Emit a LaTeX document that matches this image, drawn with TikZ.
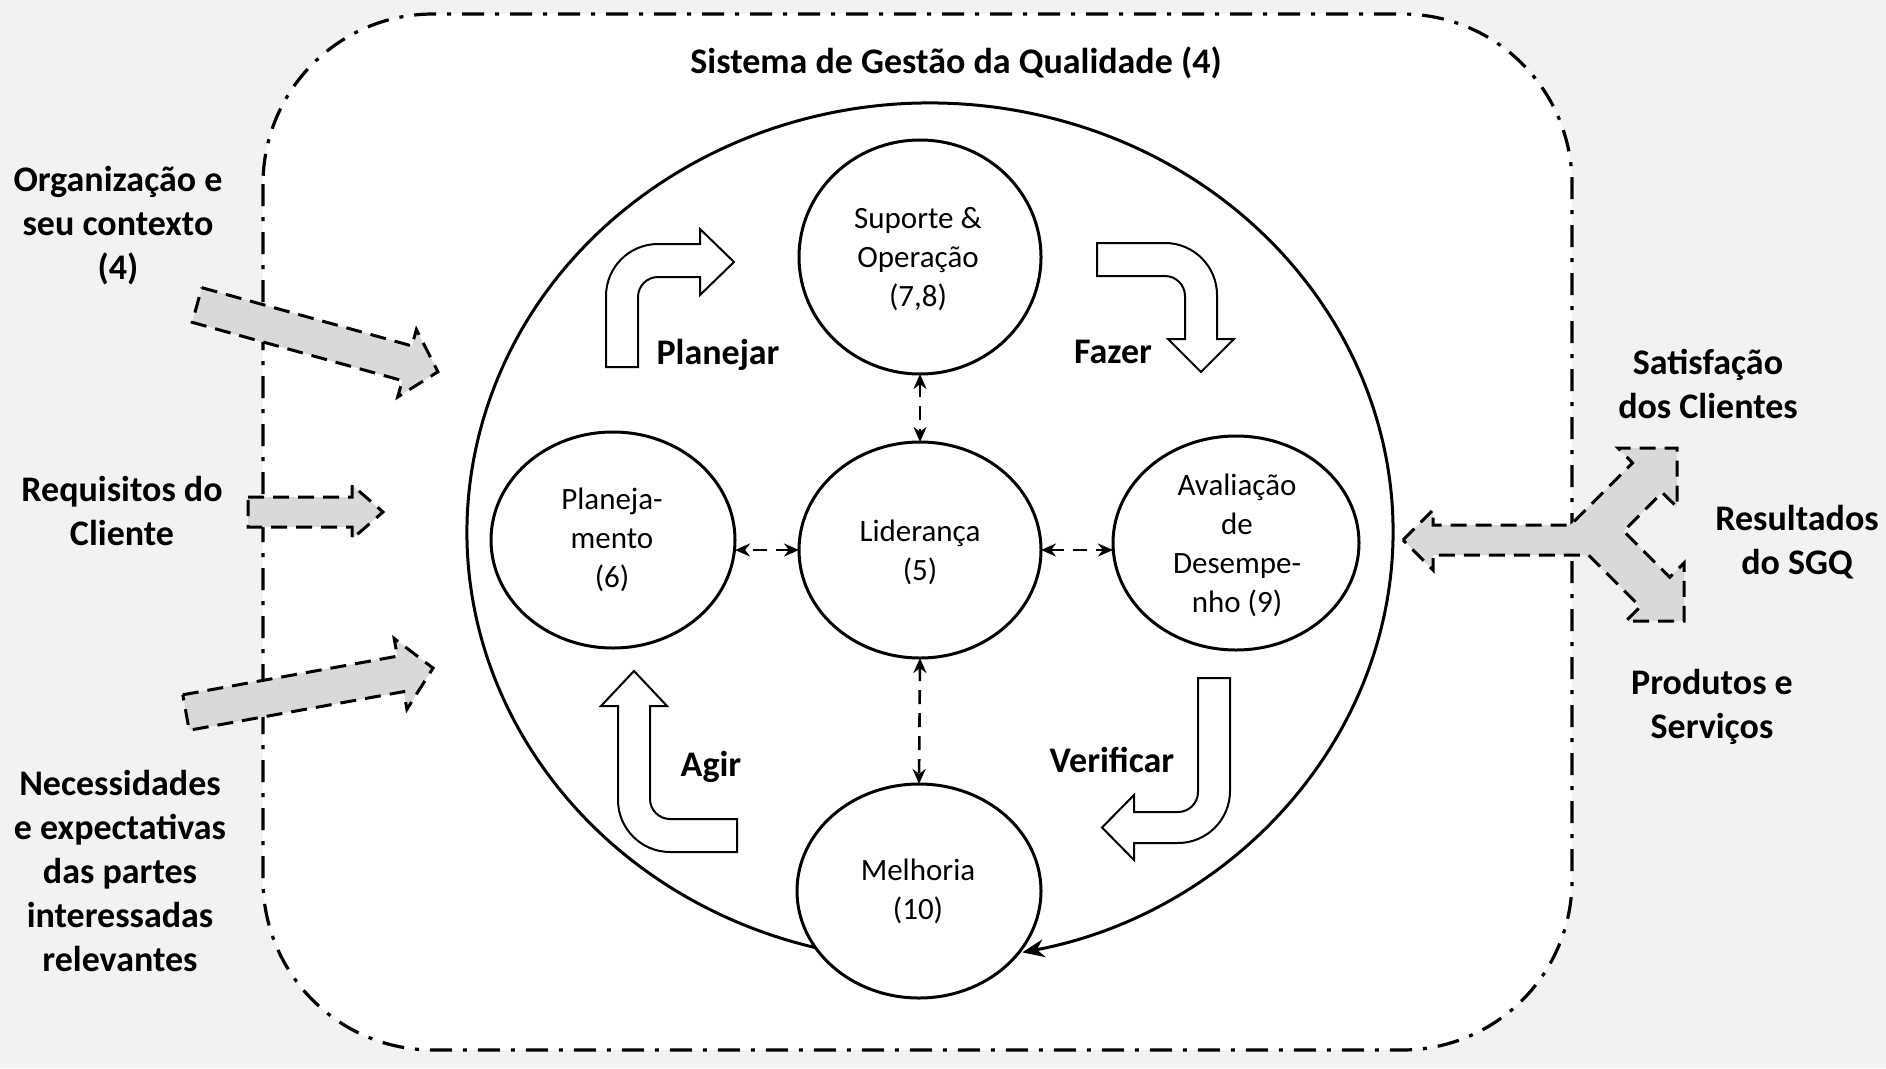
\documentclass[tikz,border=0pt]{standalone}
\usepackage{fontspec}
\setmainfont{Carlito}
\usetikzlibrary{shapes.geometric,arrows.meta,calc}
\definecolor{bggray}{HTML}{F2F2F2}
\definecolor{arrgray}{HTML}{D9D9D9}
\newcommand\garrow[8]{%
  \draw[garrowsty,shift={(#1,#2)},rotate=#3] (0,-#5) -- ({#4-#7},-#5) -- ({#4-#7},-#6) -- (#4,0) -- ({#4-#7},#6) -- ({#4-#7},#5) -- (0,#5) -- cycle;%
  \coordinate (#8) at (#1,#2);}
\begin{document}
\begin{tikzpicture}[x=1pt,y=-1pt,
  sysbox/.style={draw=black,fill=white,line width=3.2pt,rounded corners=170pt,
     dash pattern=on 22pt off 11pt on 4pt off 11pt},
  titletxt/.style={font=\fontsize{36}{44}\selectfont\bfseries,inner sep=0},
  outtxt/.style={font=\fontsize{36}{44}\selectfont\bfseries,align=center,inner sep=0},
  pdca/.style={font=\fontsize{36}{44}\selectfont\bfseries,inner sep=0},
  ctxt/.style={font=\fontsize{31}{39}\selectfont,align=center,inner sep=0},
  circ/.style={draw,line width=3pt,ellipse,inner sep=0,outer sep=0},
  dconn/.style={line width=2.6pt,dash pattern=on 14pt off 9pt,
     {Stealth[length=15pt,width=13pt]}-{Stealth[length=15pt,width=13pt]}},
  bigloop/.style={line width=3pt,-{Stealth[length=22pt,width=18pt]}},
  barrow/.style={draw,fill=white,line width=2pt,line join=miter},
  garrowsty/.style={draw,fill=arrgray,line width=3pt,dash pattern=on 16pt off 9pt,line join=miter}
]
\useasboundingbox (0,0) rectangle (1886,1068);
\fill[bggray] (0,0) rectangle (1886,1068);
\draw[sysbox] (263,14) rectangle (1572,1050);
\node[titletxt] (title) at (956,63) {Sistema de Gestão da Qualidade (4)};

% circles
\coordinate (E) at (930,532);
\node[circ,minimum width=242,minimum height=234] (sup) at (920,257) {};
\node[circ,minimum width=244,minimum height=216] (pla) at (613,540) {};
\node[circ,minimum width=242,minimum height=216] (lid) at (920,550) {};
\node[circ,minimum width=246,minimum height=214] (ava) at (1236,543) {};
\node[circ,minimum width=244,minimum height=214] (mel) at (919,891) {};

\node[ctxt] (supT) at (918,259) {Suporte \&\\Operação\\(7,8)};
\node[ctxt] (plaT) at (612,540) {Planeja-\\mento\\(6)};
\node[ctxt] (lidT) at (920,552) {Liderança\\(5)};
\node[ctxt] (avaT) at (1237,545) {Avaliação\\de\\Desempe-\\nho (9)};
\node[ctxt] (melT) at (918,891) {Melhoria\\(10)};

% big loop
\draw[bigloop] ($(E)+(104.4:463 and 429)$) arc[start angle=104.4,end angle=438.5,x radius=463,y radius=429];

% dashed connectors
\draw[dconn] (sup.south) -- (lid.north);
\draw[dconn] (lid.south) -- (mel.north);
\draw[dconn] (lid.west) -- (lid.west -| pla.east);
\draw[dconn] (lid.east) -- (lid.east -| ava.west);

% PDCA bent arrows
\draw[barrow] (606,367) -- (606,296) .. controls (606,267.3) and (629.3,244) .. (658,244) -- (700,244) -- (700,229) -- (734,262) -- (700,295) -- (700,277) -- (658,277) .. controls (647,277) and (638,286) .. (638,297) -- (638,367) -- cycle;
\draw[barrow] (1097,243) -- (1165,243) .. controls (1193.7,243) and (1217,266.3) .. (1217,295) -- (1217,339) -- (1234,339) -- (1201,372) -- (1168,339) -- (1185,339) -- (1185,296) .. controls (1185,285) and (1176,276) .. (1165,276) -- (1097,276) -- cycle;
\draw[barrow] (1198,678) -- (1230,678) -- (1230,791) .. controls (1230,819.7) and (1206.7,843) .. (1178,843) -- (1134,843) -- (1134,860) -- (1102,827.5) -- (1134,795) -- (1134,812) -- (1178,812) .. controls (1189,812) and (1198,803) .. (1198,792) -- cycle;
\draw[barrow] (737,852) -- (670,852) .. controls (641.3,852) and (618,828.7) .. (618,800) -- (618,706) -- (601,706) -- (634,671) -- (667,706) -- (650,706) -- (650,799) .. controls (650,810) and (659,819) .. (670,819) -- (737,819) -- cycle;

\node[pdca] (planejar) at (718,355) {Planejar};
\node[pdca] (fazer) at (1113,352) {Fazer};
\node[pdca] (agir) at (711,767) {Agir};
\node[pdca] (verificar) at (1112,760) {Verificar};

% gray input arrows
\garrow{197}{305}{-15.5}{250}{18}{35}{32}{in1}
\garrow{248}{512}{0}{135}{15}{27}{31}{in2}
\garrow{186}{712.5}{10.2}{251}{18}{36}{33}{in3}

% three-way output arrow
\draw[garrowsty] (1403,540) -- (1433,510) -- (1433,525) -- (1570.4,525) -- (1632.5,462.9) -- (1618,448) -- (1677,448) -- (1677,507) -- (1662.1,492.5) -- (1623.6,531) -- (1669.8,577.2) -- (1684,563) -- (1684,621) -- (1626,621) -- (1640.2,606.8) -- (1588.4,555) -- (1433,555) -- (1433,570) -- cycle;

% outer labels
\node[outtxt] (org) at (118,226) {Organização e\\seu contexto\\(4)};
\node[outtxt] (req) at (122,511) {Requisitos do\\Cliente};
\node[outtxt] (nec) at (120,871) {Necessidades\\e expectativas\\das partes\\interessadas\\relevantes};
\node[outtxt] (sat) at (1708,384) {Satisfação\\dos Clientes};
\node[outtxt] (res) at (1797,542) {Resultados\\do SGQ};
\node[outtxt] (pro) at (1712,707) {Produtos e\\Serviços};
\end{tikzpicture}
\end{document}
